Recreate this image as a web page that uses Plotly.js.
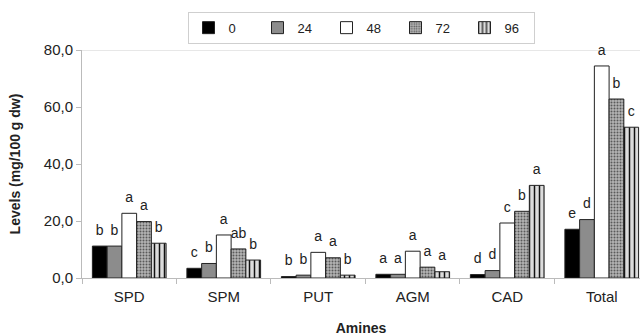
<!DOCTYPE html>
<html>
<head>
<meta charset="utf-8">
<script src="https://cdn.plot.ly/plotly-3.0.1.min.js"></script>
<style>
html,body{margin:0;padding:0;background:#fff;}
#chart{width:640px;height:336px;}
</style>
</head>
<body>
<div id="chart"></div>
<script>
const categories = ["SPD", "SPM", "PUT", "AGM", "CAD", "Total"];
const seriesNames = ["0", "24", "48", "72", "96"];
const v0  = [11.2, 3.4, 0.5, 1.3, 1.2, 17.1];
const v24 = [11.2, 5.1, 1.0, 1.3, 2.6, 20.5];
const v48 = [22.7, 15.1, 9.0, 9.4, 19.3, 74.4];
const v72 = [19.8, 10.2, 7.1, 3.8, 23.4, 62.8];
const v96 = [12.2, 6.3, 1.0, 2.2, 32.5, 52.9];
const l0  = ["b", "c", "b", "a", "d", "e"];
const l24 = ["b", "b", "b", "a", "d", "d"];
const l48 = ["a", "a", "a", "a", "c", "a"];
const l72 = ["a", "ab", "a", "a", "b", "b"];
const l96 = ["b", "b", "b", "a", "a", "c"];
const yTicks = [0, 20, 40, 60, 80];

const values = [v0, v24, v48, v72, v96];
const letters = [l0, l24, l48, l72, l96];
const markers = [
  {color: "#000000"},
  {color: "#8c8c8c"},
  {color: "#ffffff"},
  {color: "#a0a0a0", pattern: {shape: ".", fgcolor: "#5a5a5a", bgcolor: "#b4b4b4", size: 3, solidity: 0.35}},
  {color: "#d8d8d8", pattern: {shape: "|", fgcolor: "#111", bgcolor: "#dcdcdc", size: 5, solidity: 0.3}}
];
const FONT = "Liberation Sans, Arial, sans-serif";

const barTraces = seriesNames.map((n, i) => ({
  type: "bar",
  name: n,
  x: categories,
  y: values[i],
  offsetgroup: "g" + i,
  marker: Object.assign({}, markers[i], {line: {color: "#222", width: 1}}),
  hoverinfo: "x+y+name"
}));

const textTraces = seriesNames.map((n, i) => ({
  type: "scatter",
  mode: "markers+text",
  name: n + " letters",
  x: categories,
  y: values[i],
  offsetgroup: "g" + i,
  text: letters[i],
  textposition: "top center",
  textfont: {family: FONT, size: 14, color: "#222"},
  marker: {size: 11, color: "rgba(0,0,0,0)"},
  cliponaxis: false,
  showlegend: false,
  hoverinfo: "skip"
}));

const layout = {
  width: 640, height: 336,
  margin: {l: 82, r: 0, t: 50, b: 58},
  paper_bgcolor: "#fff", plot_bgcolor: "#fff",
  separators: ",.",
  font: {family: FONT, size: 14, color: "#222"},
  barmode: "group",
  scattermode: "group",
  bargap: 0.22,
  bargroupgap: 0,
  scattergap: 0.22,
  showlegend: true,
  legend: {
    orientation: "h", x: 0.5, xanchor: "center", y: 1.168, yanchor: "top",
    bordercolor: "#cfcfcf", borderwidth: 1, entrywidth: 24, itemwidth: 30,
    font: {size: 13, color: "#222"}, traceorder: "normal"
  },
  xaxis: {
    type: "category",
    range: [-0.5, 5.405],
    showline: true, linecolor: "#bbb", linewidth: 1,
    ticks: "outside", tickson: "boundaries", ticklen: 5, tickcolor: "#bbb",
    tickfont: {size: 15, color: "#222"},
    ticklabelstandoff: 5,
    showgrid: false, zeroline: false,
    title: {text: "<b>Amines</b>", font: {size: 14, color: "#222"}, standoff: 21}
  },
  yaxis: {
    range: [0, 80],
    tickvals: yTicks, tickformat: ".1f",
    showline: true, linecolor: "#bbb", linewidth: 1,
    ticks: "outside", ticklen: 5, tickcolor: "#bbb",
    tickfont: {size: 15, color: "#222"},
    showgrid: false, zeroline: false,
    title: {text: "<b>Levels (mg/100 g dw)</b>", font: {size: 14, color: "#222"}, standoff: 19}
  },
  shapes: [{type: "line", xref: "paper", x0: 0, x1: 1, yref: "y", y0: 80, y1: 80, line: {color: "#d0d0d0", width: 1}, layer: "below"}]
};

Plotly.newPlot("chart", barTraces.concat(textTraces), layout, {staticPlot: true, displayModeBar: false});
</script>
</body>
</html>
